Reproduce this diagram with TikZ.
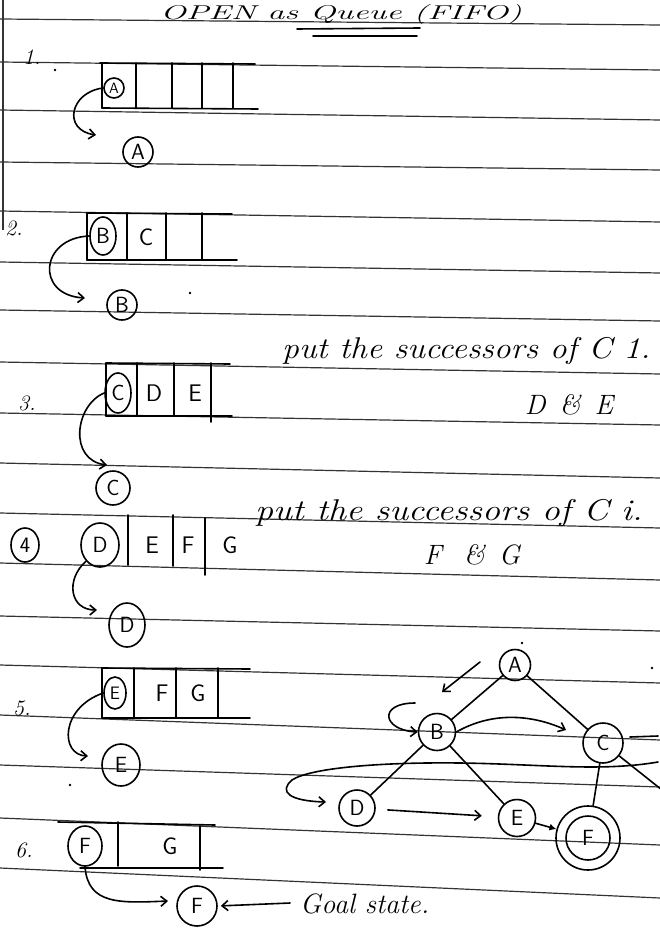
\documentclass[tikz,border=0pt]{standalone}
\usetikzlibrary{arrows.meta,shapes.geometric}
\begin{document}
\begin{tikzpicture}[x=1pt,y=-1pt,
  ink/.style={line width=1.6pt,black,line cap=round,line join=round},
  ruled/.style={line width=1.2pt,black!80},
  circ/.style={draw,ink,circle,inner sep=0pt,font=\sffamily\fontsize{22}{22}\selectfont},
  oval/.style={draw,ink,ellipse,inner sep=0pt,font=\sffamily\fontsize{22}{22}\selectfont},
  cell/.style={inner sep=0pt,font=\sffamily\fontsize{24}{24}\selectfont},
  hand/.style={inner sep=0pt,anchor=base west,font=\itshape\fontsize{30}{30}\selectfont},
  num/.style={inner sep=0pt,font=\itshape\fontsize{22}{22}\selectfont},
  arr/.style={ink,-{Straight Barb[length=6pt,width=10pt]}},
  dotmark/.style={fill=black},
]
\useasboundingbox (0,0) rectangle (660,933);
\clip (0,0) rectangle (660,933);
\fill[white] (0,0) rectangle (660,933);

% notebook ruled lines
\foreach \a/\b in {19/25,62/70,110/120,162/170,211/222,262/273,310/321,362/374,413/425,463/478,513/528,563/580,616/631,665/683,715/740,765/787,818/845,868/898}
  \draw[ruled] (0,\a) -- (660,\b);
\draw[ruled] (3,0) -- (3,230);

% title
\node[inner sep=0pt,anchor=base,font=\itshape\fontsize{20}{20}\selectfont] (title) at (341,20) {\scalebox{1.7}[1]{OPEN as Queue (FIFO)}};
\draw[ink] (297,29) -- (420,28);
\draw[ink] (313,36) -- (417,36);

% ---------- step 1 ----------
\node[num] (n1) at (32,57) {1.};
\draw[ink] (100,63) -- (255,64);
\draw[ink] (102,108) -- (258,109);
\foreach \x in {102,136,172,202,233} \draw[ink] (\x,63) -- (\x,108);
\node[circ,minimum size=20pt,font=\sffamily\fontsize{15}{15}\selectfont] (qA) at (114,88) {A};
\node[circ,minimum size=30pt] (tA) at (138,152) {A};
\coordinate (a1) at (96,135);
\draw[arr] (qA.west) .. controls (70,92) and (62,130) .. (a1);

% ---------- step 2 ----------
\node[num] (n2) at (14,228) {2.};
\draw[ink] (87,213) -- (232,214);
\draw[ink] (87,260) -- (237,260);
\foreach \x in {87,127,166,202} \draw[ink] (\x,213) -- (\x,260);
\node[oval,minimum width=26pt,minimum height=38pt] (qB) at (103,236) {B};
\node[cell] (cC2) at (146,237) {C};
\node[circ,minimum size=30pt] (tB) at (122,305) {B};
\coordinate (a2) at (85,298);
\draw[arr] (qB.west) .. controls (40,238) and (35,295) .. (a2);

% ---------- step 3 ----------
\node[num] (n3) at (27,403) {3.};
\draw[ink] (106,363) -- (230,364);
\draw[ink] (106,416) -- (232,416);
\foreach \x in {106,137,174} \draw[ink] (\x,363) -- (\x,416);
\draw[ink] (211,363) -- (211,422);
\node[oval,minimum width=26pt,minimum height=40pt] (qC) at (118,393) {C};
\node[cell] (cD3) at (154,393) {D};
\node[cell] (cE3) at (195,393) {E};
\node[circ,minimum size=34pt] (tC) at (113,488) {C};
\coordinate (a3) at (107,465);
\draw[arr] (qC.west) .. controls (75,405) and (68,460) .. (a3);
\node[hand] (t3) at (282,358) {\scalebox{1.12}[1]{put the successors of C 1.}};
\node[inner sep=0pt,font=\itshape\fontsize{28}{28}\selectfont] (t3b) at (569,405) {D\hspace{14pt}\&\hspace{14pt}E};

% ---------- step 4 ----------
\node[oval,minimum width=28pt,minimum height=34pt] (n4) at (25,545) {4};
\foreach \x/\ya/\yb in {128/515/565,173/515/566,205/518/575} \draw[ink] (\x,\ya) -- (\x,\yb);
\node[oval,minimum width=38pt,minimum height=44pt] (qD) at (100,545) {D};
\node[cell] (cE4) at (152,545) {E};
\node[cell] (cF4) at (188,545) {F};
\node[cell] (cG4) at (230,545) {G};
\node[oval,minimum width=36pt,minimum height=44pt] (tD) at (127,625) {D};
\coordinate (a4) at (97,610);
\draw[arr] (qD.south west) .. controls (65,580) and (70,610) .. (a4);
\node[hand] (t4) at (255,520) {\scalebox{1.2}[1]{put the successors of C i.}};
\node[inner sep=0pt,font=\itshape\fontsize{28}{28}\selectfont] (t4b) at (472,555) {F\hspace{22pt}\&\hspace{14pt}G};

% ---------- step 5 ----------
\node[num] (n5) at (22,708) {5.};
\draw[ink] (102,668) -- (250,669);
\draw[ink] (102,718) -- (250,718);
\foreach \x in {102,134,176,218} \draw[ink] (\x,668) -- (\x,718);
\node[oval,minimum width=22pt,minimum height=32pt,font=\sffamily\fontsize{18}{18}\selectfont] (qE) at (115,693) {E};
\node[cell] (cF5) at (162,693) {F};
\node[cell] (cG5) at (198,693) {G};
\node[oval,minimum width=38pt,minimum height=42pt] (tE) at (121,765) {E};
\coordinate (a5) at (88,756);
\draw[arr] (qE.west) .. controls (60,708) and (60,755) .. (a5);

% ---------- step 6 ----------
\node[num] (n6) at (24,850) {6.};
\draw[ink] (58,822) -- (215,825);
\draw[ink] (80,868) -- (223,868);
\draw[ink] (118,822) -- (118,866);
\draw[ink] (200,826) -- (200,870);
\node[oval,minimum width=34pt,minimum height=40pt] (qF) at (85,846) {F};
\node[cell] (cG6) at (170,846) {G};
\node[circ,minimum size=40pt] (tF) at (197,906) {F};
\coordinate (a6) at (168,901);
\draw[arr] (qF.south) .. controls (88,905) and (120,903) .. (a6);
\node[hand,font=\itshape\fontsize{28}{28}\selectfont] (goal) at (300,913) {Goal state.};
\coordinate (g1) at (290,903);
\draw[arr,shorten >=3pt] (g1) -- (tF.east);

% ---------- tree ----------
\node[circ,minimum size=31pt] (nA) at (515,665) {A};
\node[circ,minimum size=37pt] (nB) at (437,732) {B};
\node[circ,minimum size=40pt] (nC) at (603,743) {C};
\node[circ,minimum size=36pt] (nD) at (357,808) {D};
\node[circ,minimum size=37pt] (nE) at (517,818) {E};
\node[circ,minimum size=44pt] (nF) at (588,838) {F};
\node[circ,minimum size=64pt] (nFo) at (588,838) {};
\draw[ink] (nA) -- (nB);
\draw[ink] (nA) -- (nC);
\draw[ink] (nB) -- (nD);
\draw[ink] (nB) -- (nE);
\draw[ink] (nC) -- (nFo);
\coordinate (cg) at (662,790);
\draw[ink] (nC) -- (cg);
\coordinate (cr1) at (630,737);
\coordinate (cr2) at (658,736);
\draw[ink] (cr1) -- (cr2);
% traversal arrows
\coordinate (s1) at (480,662);
\coordinate (s2) at (442,692);
\draw[arr] (s1) -- (s2);
\coordinate (cb) at (415,703);
\draw[arr] (cb) .. controls (378,703) and (382,730) .. (nB.west);
\coordinate (bc) at (566,730);
\draw[arr] (nB.east) .. controls (495,710) and (535,716) .. (bc);
\coordinate (cd) at (658,762);
\coordinate (dd) at (326,802);
\draw[arr] (cd) .. controls (600,772) and (540,764) .. (460,763) .. controls (380,762) and (310,768) .. (292,780) .. controls (278,792) and (290,801) .. (dd);
\draw[arr,shorten <=12pt,shorten >=16pt] (nD) -- (nE);
\draw[ink,-{Latex[length=7pt,width=7pt]}] (nE) -- (nFo);

% specks
\foreach \p in {(55,70),(190,293),(70,785),(522,643),(652,668)} \fill[dotmark] \p circle (1.4);
\end{tikzpicture}
\end{document}
